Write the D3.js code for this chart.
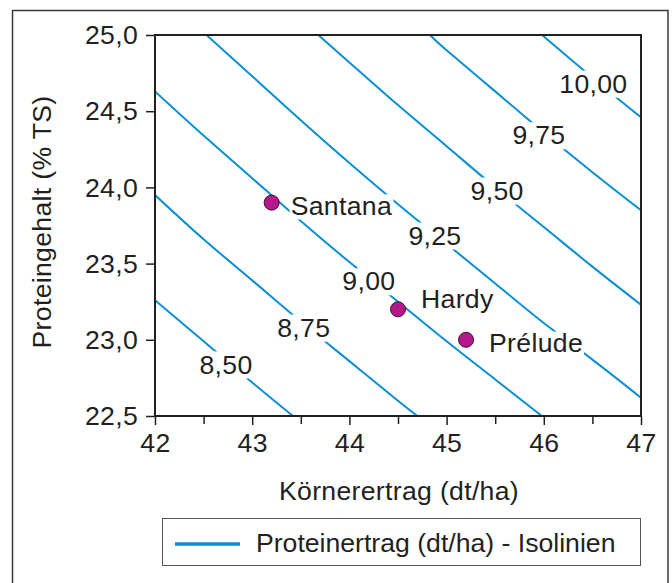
<!DOCTYPE html>
<html>
<head>
<meta charset="utf-8">
<script src="https://cdn.jsdelivr.net/npm/d3@7/dist/d3.min.js"></script>
<style>
  html, body { margin: 0; padding: 0; background: #fff; }
  text { font-family: "Liberation Sans", Arial, Helvetica, sans-serif; fill: #231f20; }
</style>
</head>
<body>
<svg id="chart" width="672" height="583"></svg>
<script>
// ---------- data ----------
const varieties = ["Santana", "Hardy", "Prélude"];
const grainYield = [43.2, 44.5, 45.2];       // Körnerertrag (dt/ha)
const proteinContent = [23.9, 23.2, 23.0];   // Proteingehalt (% TS)

const isoLevels = [8.50, 8.75, 9.00, 9.25, 9.50, 9.75, 10.00];
const isoLabels = ["8,50", "8,75", "9,00", "9,25", "9,50", "9,75", "10,00"];
// isoline vertices (x = Körnerertrag, y = Proteingehalt)
const isoLineX = [
  [42, 42.5, 43, 43.42],
  [42, 42.5, 43, 43.5, 44, 44.5, 44.70],
  [42, 42.5, 43, 43.5, 44, 44.5, 45, 45.5, 45.98],
  [42.53, 43, 43.5, 44, 44.5, 45, 45.5, 46, 46.5, 47],
  [43.68, 44, 44.5, 45, 45.5, 46, 46.5, 47],
  [44.83, 45, 45.5, 46, 46.5, 47],
  [45.98, 46, 46.5, 47]
];
const isoLineY = [
  [23.26, 22.99, 22.72, 22.5],
  [23.95, 23.66, 23.39, 23.12, 22.86, 22.60, 22.5],
  [24.63, 24.34, 24.06, 23.78, 23.51, 23.25, 22.99, 22.74, 22.5],
  [25.0, 24.73, 24.44, 24.16, 23.89, 23.63, 23.37, 23.11, 22.87, 22.62],
  [25.0, 24.82, 24.54, 24.27, 24.0, 23.74, 23.48, 23.23],
  [25.0, 24.90, 24.63, 24.36, 24.10, 23.85],
  [25.0, 24.99, 24.72, 24.46]
];
// label anchor (data units) of each isoline label
const isoLabelX = [42.73, 43.53, 44.20, 44.88, 45.52, 45.95, 46.51];
const isoLabelY = [22.835, 23.077, 23.381, 23.681, 23.976, 24.339, 24.678];

const xTicks = [42, 43, 44, 45, 46, 47];
const xMinorTicks = [42.5, 43.5, 44.5, 45.5, 46.5];
const yTicks = [22.5, 23.0, 23.5, 24.0, 24.5, 25.0];
const yTickLabels = ["22,5", "23,0", "23,5", "24,0", "24,5", "25,0"];

const xTitle = "Körnerertrag (dt/ha)";
const yTitle = "Proteingehalt (% TS)";
const legendLabel = "Proteinertrag (dt/ha) - Isolinien";

// ---------- layout ----------
const W = 672, H = 583;
const plot = { left: 155, right: 641, top: 35, bottom: 416 };
const BLUE = "#0a8fd2";
const MAGENTA = "#b4198c";
const FS = 25;
const SX = 1.065;   // horizontal glyph stretch of the original typeface
const LS = 0.3;

const svg = d3.select("#chart");
svg.append("rect").attr("width", W).attr("height", H).attr("fill", "#fff");

// helper: text placed at (x,y) with a slight horizontal stretch
function addText(parent, px, py, str, anchor, dy, rotate, ls) {
  const g = parent.append("g")
    .attr("transform", `translate(${px},${py})` + (rotate ? ` rotate(${rotate})` : "") + ` scale(${SX},1)`);
  const bg = g.append("rect").attr("fill", "#fff").attr("width", 0).attr("height", 0);
  const t = g.append("text")
    .attr("x", 0).attr("y", 0)
    .attr("dy", dy || 0)
    .attr("text-anchor", anchor || "start")
    .attr("font-size", FS).attr("letter-spacing", ls === undefined ? LS : ls)
    .text(str);
  return { g, bg, t };
}

// outer frame (bottom edge cut off)
svg.append("rect")
  .attr("x", 12.5).attr("y", 10.5).attr("width", 655.5).attr("height", 640)
  .attr("fill", "none").attr("stroke", "#3a3a3a").attr("stroke-width", 1.5);

const x = d3.scaleLinear().domain([42, 47]).range([plot.left, plot.right]);
const y = d3.scaleLinear().domain([22.5, 25]).range([plot.bottom, plot.top]);

// clip
svg.append("clipPath").attr("id", "plotclip")
  .append("rect")
  .attr("x", plot.left).attr("y", plot.top)
  .attr("width", plot.right - plot.left).attr("height", plot.bottom - plot.top);

// isolines
const line = d3.line().x(d => x(d[0])).y(d => y(d[1])).curve(d3.curveNatural);
const gIso = svg.append("g").attr("clip-path", "url(#plotclip)");
isoLevels.forEach((lv, i) => {
  const pts = isoLineX[i].map((vx, j) => [vx, isoLineY[i][j]]);
  gIso.append("path").attr("d", line(pts))
    .attr("fill", "none").attr("stroke", BLUE).attr("stroke-width", 2);
});

// isoline labels with white background
const gIsoLab = svg.append("g");
isoLevels.forEach((lv, i) => {
  const o = addText(gIsoLab, x(isoLabelX[i]), y(isoLabelY[i]), isoLabels[i], "middle", "0.35em");
  const bb = o.t.node().getBBox();
  o.bg.attr("x", bb.x - 1).attr("y", bb.y).attr("width", bb.width + 2).attr("height", bb.height);
});

// axes
const xAxis = d3.axisBottom(x).tickValues(xTicks).tickSize(9).tickPadding(9).tickFormat(d3.format("d"));
const gx = svg.append("g").attr("transform", `translate(0,${plot.bottom})`).call(xAxis);
const gxm = svg.append("g").attr("transform", `translate(0,${plot.bottom})`)
  .call(d3.axisBottom(x).tickValues(xMinorTicks).tickSize(8).tickFormat(""));
const yAxis = d3.axisLeft(y).tickValues(yTicks).tickSize(9).tickPadding(8)
  .tickFormat((d, i) => yTickLabels[i]);
const gy = svg.append("g").attr("transform", `translate(${plot.left},0)`).call(yAxis);

[gx, gxm, gy].forEach(g => {
  g.select(".domain").remove();
  g.selectAll(".tick line").attr("stroke", "#231f20").attr("stroke-width", 1.5);
  g.selectAll(".tick text")
    .attr("font-size", FS).attr("letter-spacing", LS)
    .attr("font-family", "'Liberation Sans', Arial, Helvetica, sans-serif")
    .attr("fill", "#231f20")
    .attr("transform", `scale(${SX},1)`);
});
gx.selectAll(".tick text").attr("dy", "0.71em");
gy.selectAll(".tick text").attr("dy", "0.35em").attr("x", -17 / SX);

// plot border
svg.append("rect")
  .attr("x", plot.left).attr("y", plot.top)
  .attr("width", plot.right - plot.left).attr("height", plot.bottom - plot.top)
  .attr("fill", "none").attr("stroke", "#231f20").attr("stroke-width", 2);

// points
const pts = varieties.map((v, i) => ({ name: v, x: grainYield[i], y: proteinContent[i] }));
svg.append("g").selectAll("circle").data(pts).join("circle")
  .attr("cx", d => x(d.x)).attr("cy", d => y(d.y)).attr("r", 7.5)
  .attr("fill", MAGENTA).attr("stroke", "#3a1030").attr("stroke-width", 1);

// point labels (offsets in px)
const labelDx = { "Santana": 19, "Hardy": 23, "Prélude": 23 };
const labelDy = { "Santana": 12, "Hardy": -1, "Prélude": 12 };
const gPL = svg.append("g");
pts.forEach(d => {
  const o = addText(gPL, x(d.x) + labelDx[d.name], y(d.y) + labelDy[d.name], d.name, "start", 0);
  const bb = o.t.node().getBBox();
  o.bg.attr("x", bb.x - 1).attr("y", bb.y + 2).attr("width", bb.width + 2).attr("height", bb.height - 2);
});

// axis titles
addText(svg, (plot.left + plot.right) / 2 + 1, 500, xTitle, "middle", 0);
addText(svg, 51, 222, yTitle, "middle", 0, -90);

// legend
const lg = svg.append("g");
lg.append("rect").attr("x", 162.5).attr("y", 518.5).attr("width", 478).attr("height", 47)
  .attr("fill", "#fff").attr("stroke", "#555").attr("stroke-width", 1);
lg.append("line").attr("x1", 175).attr("x2", 240).attr("y1", 544).attr("y2", 544)
  .attr("stroke", BLUE).attr("stroke-width", 3.5);
addText(lg, 256, 551.5, legendLabel, "start", 0, 0, 0);
</script>
</body>
</html>
